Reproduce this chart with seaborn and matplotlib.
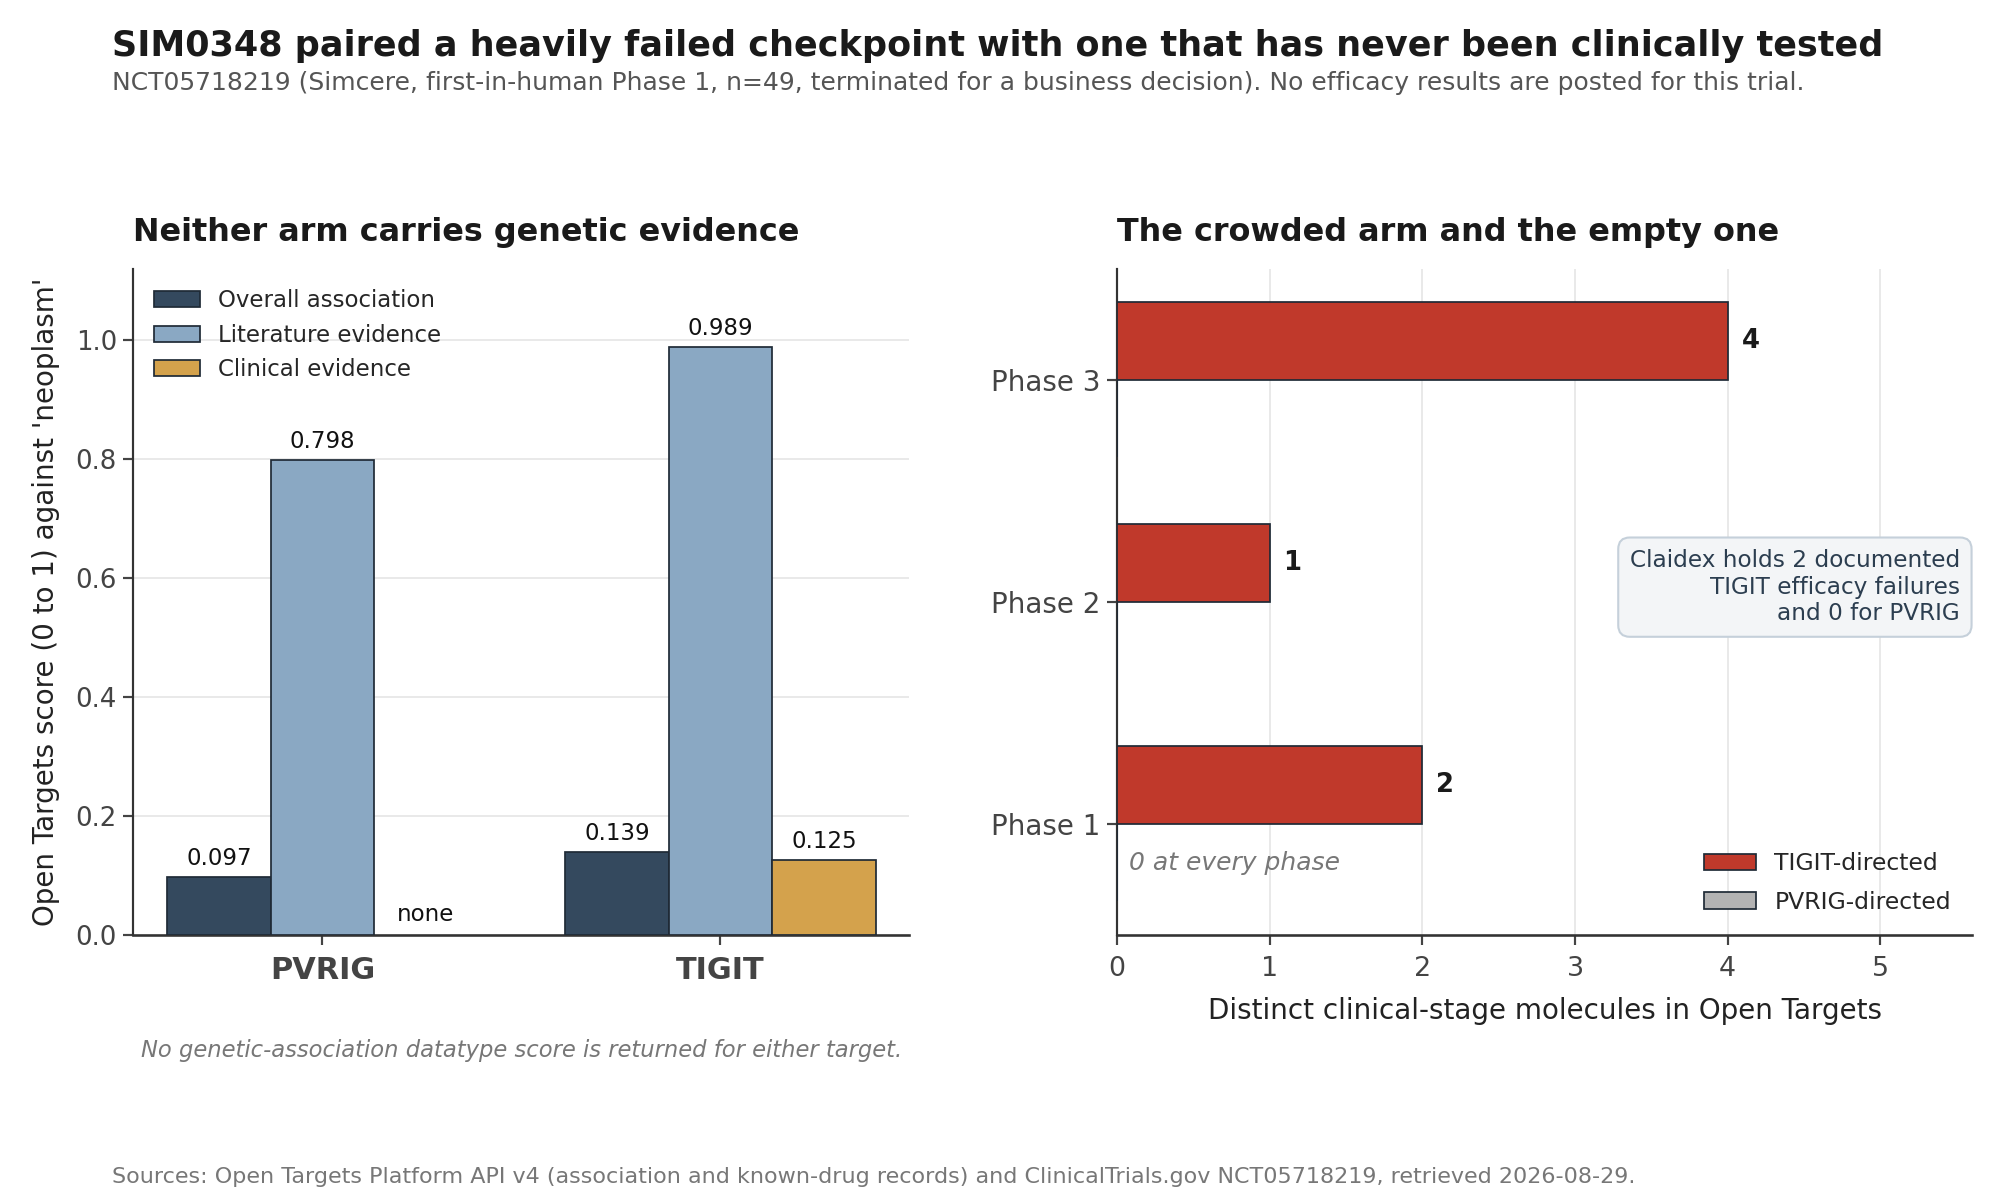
import numpy as np
import pandas as pd
import matplotlib
matplotlib.use("Agg")
import matplotlib.pyplot as plt
from matplotlib.patches import Patch
import seaborn as sns

# left panel: Open Targets datatype scores against 'neoplasm'
targets = ["PVRIG", "TIGIT"]
measures = ["Overall association", "Literature evidence", "Clinical evidence"]
overall_score = [0.097, 0.139]
literature_score = [0.798, 0.989]
clinical_score = [np.nan, 0.125]  # PVRIG has no clinical score

# right panel: clinical-stage molecules per phase
phases = ["Phase 3", "Phase 2", "Phase 1"]
directions = ["TIGIT-directed", "PVRIG-directed"]
tigit_count = [4, 1, 2]
pvrig_count = [0, 0, 0]

score_colors = ["#34495e", "#8aa8c3", "#d4a24c"]
phase_colors = ["#c0392b", "#b3b3b3"]
edge = "#1f2a36"

sns.set_theme(style="ticks")
plt.rcParams["font.family"] = ["DejaVu Sans"]

scores = pd.DataFrame({
    "target": targets * 3,
    "measure": np.repeat(measures, 2),
    "score": overall_score + literature_score + clinical_score,
})
counts = pd.DataFrame({
    "phase": phases * 2,
    "direction": np.repeat(directions, 3),
    "n": tigit_count + pvrig_count,
})

fig = plt.figure(figsize=(16, 9.6), dpi=125)
ax1 = fig.add_axes([0.0667, 0.221, 0.388, 0.555])
ax2 = fig.add_axes([0.5585, 0.221, 0.4275, 0.555])

# ---- left: grouped bars
bar_w = 0.78
sns.barplot(data=scores, x="target", y="score", hue="measure", order=targets,
            hue_order=measures, palette=score_colors, saturation=1,
            edgecolor=edge, linewidth=1.0, width=bar_w, ax=ax1, zorder=3)
ax1.set_ylim(0, 1.12)
ax1.set_xlim(-0.475, 1.475)
ax1.yaxis.grid(True, color="#e6e6e6", linewidth=1.0, zorder=0)
ax1.set_axisbelow(True)
for bar in ax1.patches:
    h = bar.get_height()
    if np.isnan(h) or bar.get_width() == 0:
        continue
    ax1.text(bar.get_x() + bar.get_width() / 2, h + 0.012, f"{h:.3f}",
             ha="center", va="bottom", fontsize=13.2, color="#111111")
# the missing clinical score for PVRIG
ax1.text(0 + bar_w / 3, 0.014, "none", ha="center", va="bottom",
         fontsize=13.2, color="#111111")
ax1.set_xlabel("")
ax1.set_ylabel("Open Targets score (0 to 1) against 'neoplasm'",
               fontsize=16, color="#222222", labelpad=9)
ax1.tick_params(axis="y", labelsize=15, labelcolor="#444444", color="#444444")
ax1.tick_params(axis="x", labelsize=17.5, labelcolor="#444444", color="#444444",
                pad=6)
for lab in ax1.get_xticklabels():
    lab.set_fontweight("bold")
for s in ["top", "right"]:
    ax1.spines[s].set_visible(False)
for s in ["left", "bottom"]:
    ax1.spines[s].set_color("#333333")
ax1.spines["bottom"].set_linewidth(1.5)
ax1.legend(loc="upper left", frameon=False, fontsize=13.2,
           bbox_to_anchor=(0.0, 1.0), handlelength=2.0, labelspacing=0.5)
ax1.set_title("Neither arm carries genetic evidence", loc="left",
              fontsize=18.4, fontweight="bold", color="#1a1a1a", pad=16)
ax1.text(0.5, -0.174, "No genetic-association datatype score is returned for either target.",
         transform=ax1.transAxes, ha="center", va="center", fontsize=13,
         style="italic", color="#777777")

# ---- right: horizontal bars by phase
sns.barplot(data=counts, y="phase", x="n", hue="direction", order=phases,
            hue_order=directions, palette=phase_colors, saturation=1,
            edgecolor=edge, linewidth=1.0, width=0.7, orient="h", ax=ax2,
            zorder=3)
ax2.set_xlim(0, 5.6)
ax2.set_ylim(2.5, -0.5)
ax2.set_xticks(range(6))
ax2.xaxis.grid(True, color="#e6e6e6", linewidth=1.0, zorder=0)
ax2.set_axisbelow(True)
for bar in ax2.patches:
    w = bar.get_width()
    if w > 0:
        ax2.text(w + 0.09, bar.get_y() + bar.get_height() / 2, f"{w:.0f}",
                 ha="left", va="center", fontsize=15, fontweight="bold",
                 color="#1a1a1a")
ax2.text(0.08, 2 + 0.175, "0 at every phase", ha="left", va="center",
         fontsize=14.4, style="italic", color="#777777")
ax2.text(0.986, 0.522, "Claidex holds 2 documented\nTIGIT efficacy failures\nand 0 for PVRIG",
         transform=ax2.transAxes, ha="right", va="center", fontsize=13.3,
         color="#2c3e50", linespacing=1.2,
         bbox=dict(boxstyle="round,pad=0.5", facecolor="#f3f5f7",
                   edgecolor="#c5d0da", linewidth=1.2))
ax2.set_ylabel("")
ax2.set_xlabel("Distinct clinical-stage molecules in Open Targets",
               fontsize=16, color="#222222", labelpad=9)
ax2.tick_params(axis="y", labelsize=16, labelcolor="#444444", color="#444444")
ax2.tick_params(axis="x", labelsize=15.5, labelcolor="#444444", color="#444444",
                pad=6)
for s in ["top", "right"]:
    ax2.spines[s].set_visible(False)
for s in ["left", "bottom"]:
    ax2.spines[s].set_color("#333333")
ax2.spines["bottom"].set_linewidth(1.5)
handles = [Patch(facecolor=c, edgecolor=edge, linewidth=1.0) for c in phase_colors]
ax2.legend(handles, directions, loc="lower right", frameon=False,
           fontsize=13.5, bbox_to_anchor=(1.0, 0.0), handlelength=2.2,
           labelspacing=0.65)
ax2.set_title("The crowded arm and the empty one", loc="left",
              fontsize=18.4, fontweight="bold", color="#1a1a1a", pad=16)

# ---- figure text
fig.text(0.0558, 0.962, "SIM0348 paired a heavily failed checkpoint with one that has never been clinically tested",
         fontsize=20.2, fontweight="bold", color="#1a1a1a", va="center")
fig.text(0.0558, 0.931, "NCT05718219 (Simcere, first-in-human Phase 1, n=49, terminated for a business decision). "
         "No efficacy results are posted for this trial.",
         fontsize=14.4, color="#555555", va="center")
fig.text(0.0558, 0.019, "Sources: Open Targets Platform API v4 (association and known-drug records) and "
         "ClinicalTrials.gov NCT05718219, retrieved 2026-08-29.",
         fontsize=12.8, color="#777777", va="center")

fig.savefig("out.png", dpi=125)
